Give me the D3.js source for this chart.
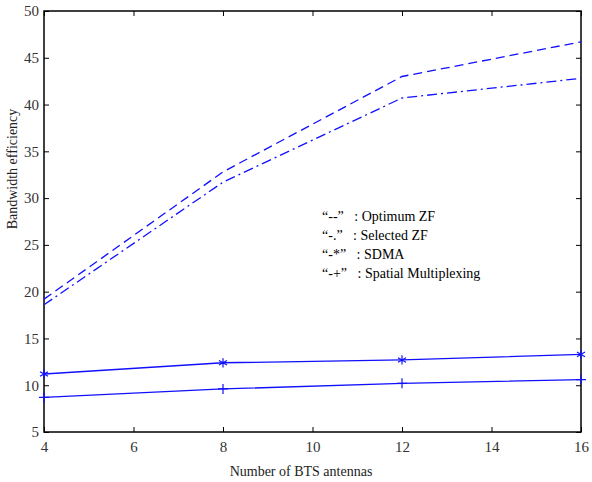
<!DOCTYPE html>
<html>
<head>
<meta charset="utf-8">
<script src="https://cdn.jsdelivr.net/npm/d3@7"></script>
<style>
  body { margin: 0; background: #fff; }
  svg text { font-family: "Liberation Serif", "Times New Roman", serif !important; }
</style>
</head>
<body>
<div id="chart"></div>
<script>
// data
var antennas = [4, 8, 12, 16];
var optimumZF = [19.2, 32.8, 43.0, 46.7];
var selectedZF = [18.6, 31.7, 40.7, 42.8];
var sdma = [11.2, 12.4, 12.7, 13.3];
var spatialMux = [8.7, 9.6, 10.2, 10.6];
var xTicks = [4, 6, 8, 10, 12, 14, 16];
var yTicks = [5, 10, 15, 20, 25, 30, 35, 40, 45, 50];
var legendLabels = ["\u201c--\u201d\u00a0\u00a0 : Optimum ZF", "\u201c-.\u201d\u00a0\u00a0 : Selected ZF",
  "\u201c-*\u201d\u00a0\u00a0 : SDMA", "\u201c-+\u201d\u00a0\u00a0 : Spatial Multiplexing"];

var serif = "Liberation Serif";
var W = 592, H = 482;
var margin = {top: 11, right: 11, bottom: 50, left: 44};
var width = W - margin.left - margin.right,
  height = H - margin.top - margin.bottom;

var svg = d3.select("#chart").append("svg")
  .attr("width", W).attr("height", H)
  .attr("font-family", serif);
var g = svg.append("g")
  .attr("transform", `translate(${margin.left}, ${margin.top})`);

var x = d3.scaleLinear().domain([4, 16]).range([0, width]);
var y = d3.scaleLinear().domain([5, 50]).range([height, 0]);

// axes, ticks pointing inward on all four sides
function styleAxis(sel) {
  sel.attr("font-family", serif);
  sel.select(".domain").remove();
  sel.selectAll("line").attr("stroke", "#000").attr("stroke-width", 1);
  sel.selectAll("text").attr("font-size", "15px").attr("fill", "#333");
}
g.append("g").attr("transform", `translate(0, ${height})`)
  .call(d3.axisBottom(x).tickValues(xTicks).tickSizeInner(-5).tickSizeOuter(0).tickPadding(9))
  .call(styleAxis);
g.append("g")
  .call(d3.axisLeft(y).tickValues(yTicks).tickSizeInner(-5).tickSizeOuter(0).tickPadding(5))
  .call(styleAxis);
g.append("g")
  .call(d3.axisTop(x).tickValues(xTicks).tickSizeInner(-5).tickSizeOuter(0).tickFormat(""))
  .call(styleAxis);
g.append("g").attr("transform", `translate(${width}, 0)`)
  .call(d3.axisRight(y).tickValues(yTicks).tickSizeInner(-5).tickSizeOuter(0).tickFormat(""))
  .call(styleAxis);

// frame
g.append("rect")
  .attr("width", width).attr("height", height)
  .attr("fill", "none").attr("stroke", "#000").attr("stroke-width", 1.5);

var line = d3.line()
  .x(function(d, i) { return x(antennas[i]); })
  .y(function(d) { return y(d); });

var blue = "#1010ff";
var series = [
  {vals: optimumZF, dash: "9,5", marker: null},
  {vals: selectedZF, dash: "10,4,2,4", marker: null},
  {vals: sdma, dash: null, marker: "star"},
  {vals: spatialMux, dash: null, marker: "plus"}
];

series.forEach(function(s) {
  g.append("path")
    .datum(s.vals)
    .attr("fill", "none")
    .attr("stroke", blue)
    .attr("stroke-width", 1.3)
    .attr("stroke-dasharray", s.dash)
    .attr("d", line);

  if (s.marker) {
    g.selectAll(null)
      .data(s.vals)
      .enter().append("path")
      .attr("transform", function(d, i) { return `translate(${x(antennas[i])}, ${y(d)})`; })
      .attr("d", s.marker == "star"
        ? d3.symbol().type(d3.symbolAsterisk).size(60)()
        : "M-5,0H5M0,-5V5")
      .attr("fill", "none")
      .attr("stroke", blue)
      .attr("stroke-width", 1.2);
  }
});

// legend text
g.selectAll(".legend")
  .data(legendLabels)
  .enter().append("text")
  .attr("class", "legend")
  .attr("x", 278)
  .attr("y", function(d, i) { return 210 + i * 19; })
  .attr("font-size", "14px")
  .attr("fill", "#000")
  .text(function(d) { return d; });

// axis titles
svg.append("text")
  .attr("x", 301)
  .attr("y", 476)
  .attr("text-anchor", "middle")
  .attr("font-size", "14px")
  .attr("fill", "#222")
  .text("Number of BTS antennas");

svg.append("text")
  .attr("transform", "translate(17, 169) rotate(-90)")
  .attr("text-anchor", "middle")
  .attr("font-size", "14px")
  .attr("fill", "#222")
  .text("Bandwidth efficiency");
</script>
</body>
</html>
